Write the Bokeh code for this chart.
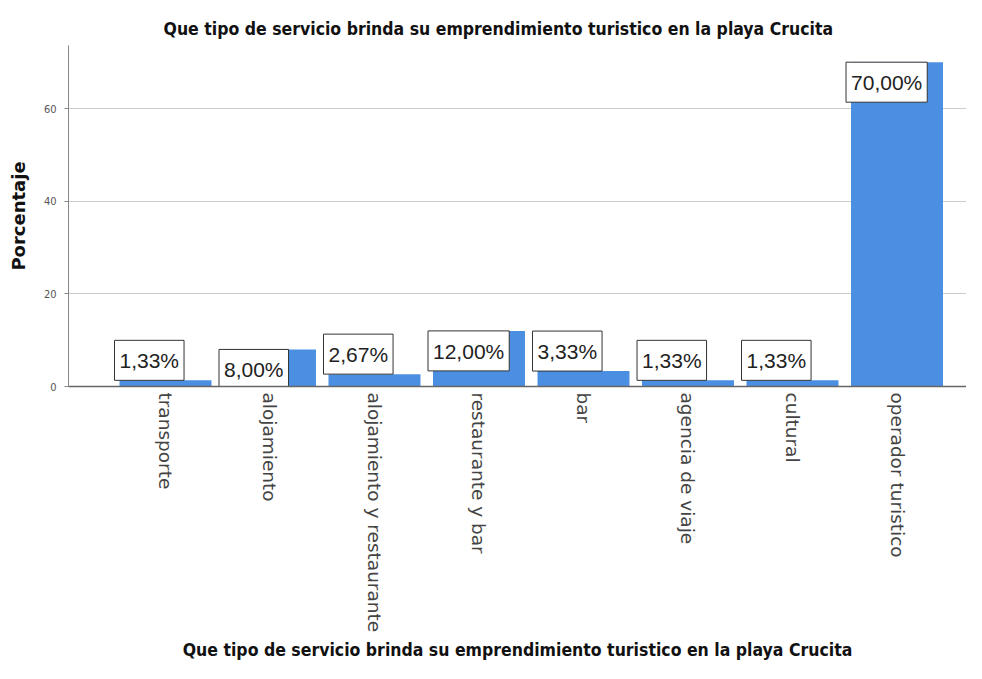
import math
from bokeh.plotting import figure
from bokeh.models import Range1d, FixedTicker, ColumnDataSource
from bokeh.core.properties import value
from bokeh.embed import file_html
from bokeh.resources import INLINE

title_text = "Que tipo de servicio brinda su emprendimiento turistico en la playa Crucita"
categories = ["transporte", "alojamiento", "alojamiento y restaurante", "restaurante y bar",
              "bar", "agencia de viaje", "cultural", "operador turistico"]
percentages = [1.33, 8.00, 2.67, 12.00, 3.33, 1.33, 1.33, 70.00]
y_ticks = [0, 20, 40, 60]

BAR_W = 0.88
idx = list(range(len(categories)))
labels = [("%.2f%%" % v).replace(".", ",") for v in percentages]
baselines = ["top" if v >= 5 else "bottom" for v in percentages]
label_x = [i - BAR_W / 2 for i in idx]

src = ColumnDataSource(dict(x=idx, top=percentages, lx=label_x, lab=labels, base=baselines))

NARROW = "'Liberation Sans Narrow', 'DejaVu Sans Condensed', sans-serif"

p = figure(width=966, height=663, output_backend="svg", toolbar_location=None,
           x_range=Range1d(-0.928, 7.665), y_range=Range1d(0, 73.6),
           min_border_left=68, min_border_right=0, min_border_top=45, min_border_bottom=5)
p.background_fill_color = "white"
p.border_fill_color = "white"
p.outline_line_color = None

p.title.text = title_text
p.title.align = "left"
p.title.offset = 95
p.title.standoff = 13
p.title.text_font = NARROW
p.title.text_font_size = "17.5px"
p.title.text_font_style = "bold"
p.title.text_color = "#111111"

p.vbar(x="x", top="top", width=BAR_W, source=src, fill_color="#4a8fe2", line_color=None)

p.text(x="lx", y="top", text="lab", source=src, text_align="left", text_baseline="base",
       x_offset=-5, text_font=value("Liberation Sans"), text_font_size="21px", text_color="#222222",
       background_fill_color="white", border_line_color="#333333", border_line_width=1,
       padding=dict(left=5, right=5, top=9, bottom=8))

p.xgrid.grid_line_color = None
p.ygrid.grid_line_color = "#cccccc"
p.ygrid.grid_line_width = 1

yax = p.yaxis[0]
yax.ticker = FixedTicker(ticks=y_ticks)
yax.axis_line_color = "#888888"
yax.major_tick_line_color = "#888888"
yax.major_tick_out = 4
yax.major_tick_in = 0
yax.minor_tick_line_color = None
yax.major_label_standoff = 8
yax.major_label_text_font = NARROW
yax.major_label_text_font_size = "11px"
yax.major_label_text_color = "#555555"
yax.axis_label = "Porcentaje"
yax.axis_label_text_font = "DejaVu Sans"
yax.axis_label_text_font_size = "18px"
yax.axis_label_text_font_style = "bold"
yax.axis_label_text_color = "#111111"
yax.axis_label_standoff = 12

xax = p.xaxis[0]
xax.ticker = FixedTicker(ticks=idx)
xax.major_label_overrides = {i: c for i, c in zip(idx, categories)}
xax.major_label_orientation = -math.pi / 2
xax.axis_line_color = "#666666"
xax.axis_line_width = 1.5
xax.major_tick_line_color = None
xax.minor_tick_line_color = None
xax.major_tick_out = 0
xax.major_tick_in = 0
xax.major_label_standoff = 6
xax.major_label_text_font = "DejaVu Sans"
xax.major_label_text_font_size = "18.5px"
xax.major_label_text_color = "#444444"
xax.axis_label = title_text
xax.axis_label_text_font = NARROW
xax.axis_label_text_font_size = "17.5px"
xax.axis_label_text_font_style = "bold"
xax.axis_label_text_color = "#111111"
xax.axis_label_standoff = 5

open("out.html", "w").write(file_html(p, INLINE))
